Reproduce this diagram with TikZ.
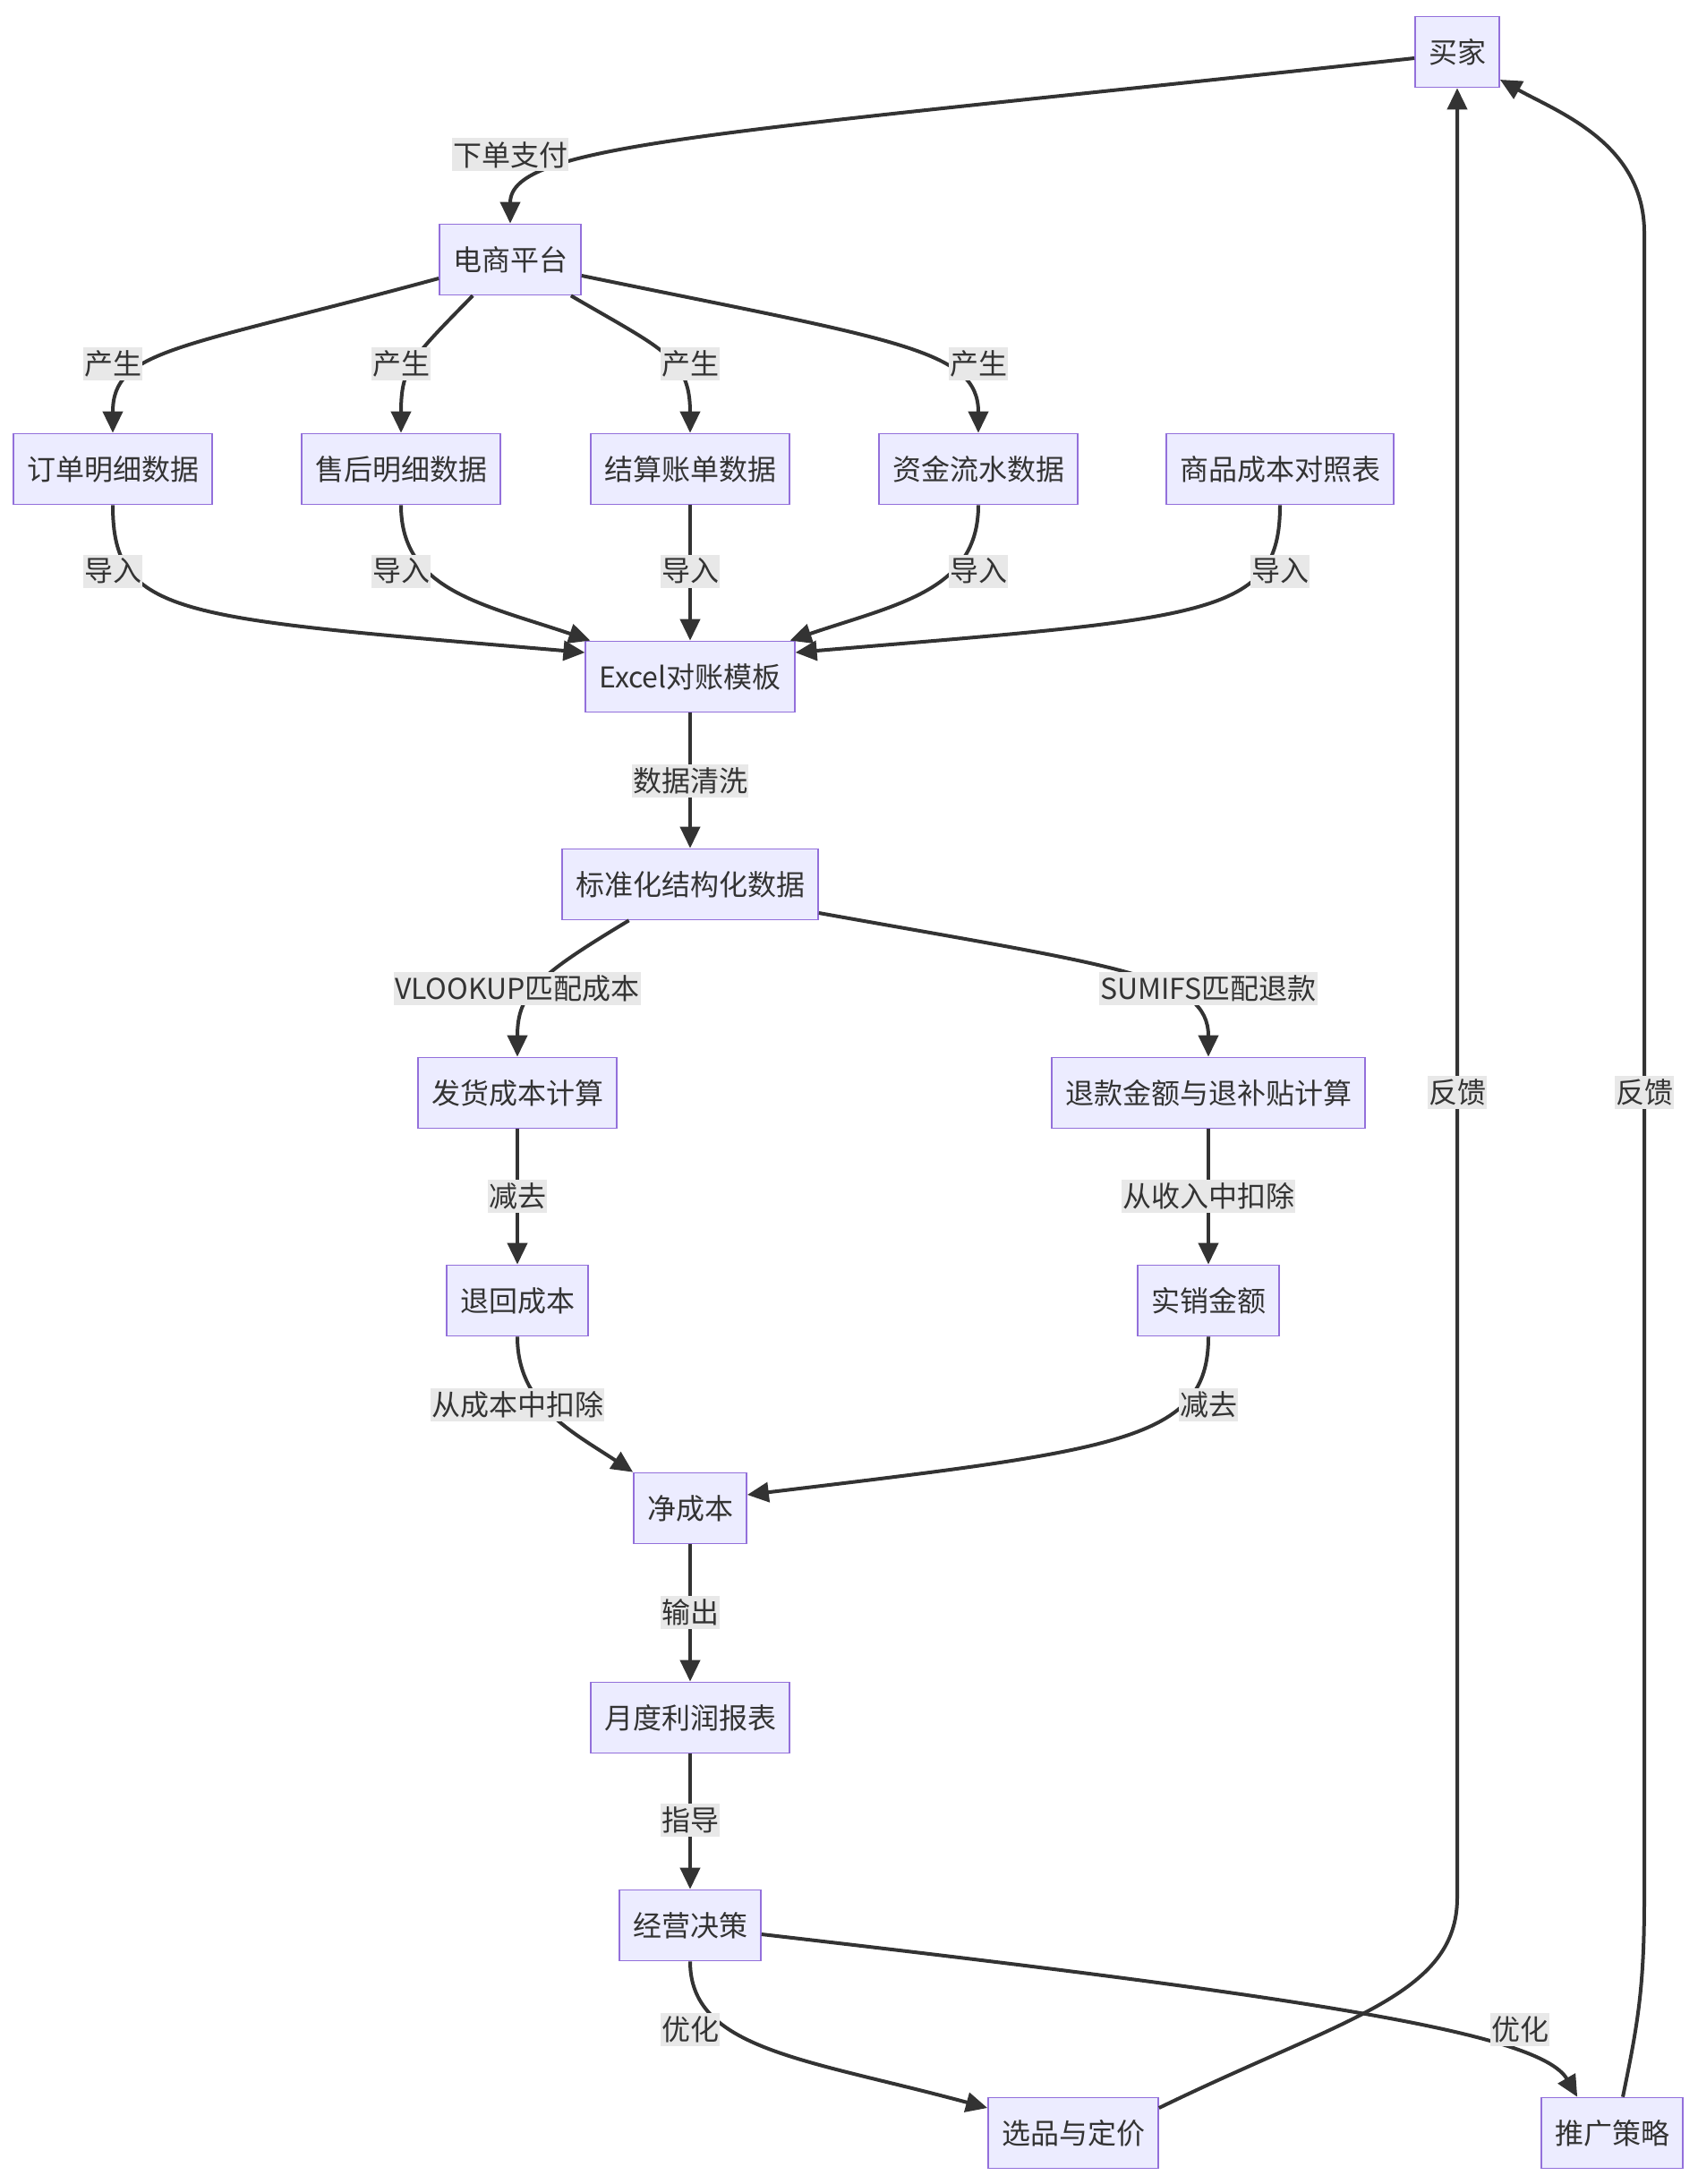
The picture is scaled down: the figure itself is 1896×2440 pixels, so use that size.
\documentclass[tikz,border=0pt]{standalone}
\usepackage{fontspec}
\setmainfont{Noto Sans CJK SC}
\usepackage{xcolor}
\usepackage{tikz}
\usetikzlibrary{arrows.meta}
\definecolor{boxfill}{HTML}{ECECFF}
\definecolor{boxline}{HTML}{9370DB}
\definecolor{ink}{HTML}{333333}
\definecolor{lblbg}{HTML}{E8E8E8}
\tikzset{
  box/.style={draw=boxline,fill=boxfill,line width=0.85pt,text=ink,minimum height=39.5pt,
    inner xsep=7.5pt,inner ysep=0pt,font=\fontsize{16pt}{19pt}\selectfont},
  lbl/.style={fill=lblbg,text=ink,inner xsep=0.5pt,inner ysep=0pt,minimum height=18.5pt,
    font=\fontsize{16pt}{19pt}\selectfont},
  ar/.style={draw=ink,line width=2pt,-{Triangle[length=12pt,width=11pt]}}
}

\begin{document}
\begin{tikzpicture}[x=0.5pt,y=0.5pt]
\useasboundingbox (0,0) rectangle (1896,-2440);
% boxes
\node[box] (maijia) at (1628,-58) {买家};
\node[box] (pingtai) at (570,-290) {电商平台};
\node[box] (dingdan) at (126,-524) {订单明细数据};
\node[box] (shouhou) at (448,-524) {售后明细数据};
\node[box] (jiesuan) at (771,-524) {结算账单数据};
\node[box] (zijin) at (1093,-524) {资金流水数据};
\node[box] (chengben) at (1430,-524) {商品成本对照表};
\node[box] (excel) at (771,-756) {Excel对账模板};
\node[box] (biaozhun) at (771,-988) {标准化结构化数据};
\node[box] (fahuo) at (578,-1221) {发货成本计算};
\node[box] (tuikuan) at (1350,-1221) {退款金额与退补贴计算};
\node[box] (tuihui) at (578,-1453) {退回成本};
\node[box] (shixiao) at (1350,-1453) {实销金额};
\node[box] (jingcb) at (771,-1685) {净成本};
\node[box] (yuedu) at (771,-1919) {月度利润报表};
\node[box] (juece) at (771,-2151) {经营决策};
\node[box] (xuanpin) at (1199,-2383) {选品与定价};
\node[box] (tuiguang) at (1801,-2383) {推广策略};

% connectors
\draw[ar] ([yshift=-3.5pt]maijia.west) .. controls (800,-150) and (570,-160) .. (pingtai.north);
\draw[ar] ([yshift=-10.5pt]pingtai.west) .. controls (200,-390) and (126,-390) .. (dingdan.north);
\draw[ar] ([xshift=19pt]pingtai.south west) .. controls (460,-400) and (448,-410) .. (shouhou.north);
\draw[ar] ([xshift=-6pt]pingtai.south east) .. controls (740,-390) and (771,-400) .. (jiesuan.north);
\draw[ar] ([yshift=-9pt]pingtai.east) .. controls (1000,-380) and (1093,-390) .. (zijin.north);
\draw[ar] (dingdan.south) .. controls (126,-690) and (200,-690) .. ([yshift=13.5pt]excel.west);
\draw[ar] (shouhou.south) .. controls (448,-660) and (540,-675) .. ([xshift=3pt]excel.north west);
\draw[ar] (jiesuan) -- (excel);
\draw[ar] (zijin.south) .. controls (1093,-660) and (1002,-675) .. ([xshift=-3pt]excel.north east);
\draw[ar] (chengben.south) .. controls (1430,-690) and (1350,-690) .. ([yshift=13.5pt]excel.east);
\draw[ar] (excel) -- (biaozhun);
\draw[ar] ([xshift=37.75pt]biaozhun.south west) .. controls (600,-1090) and (578,-1110) .. (fahuo.north);
\draw[ar] ([yshift=-16pt]biaozhun.east) .. controls (1250,-1080) and (1350,-1090) .. (tuikuan.north);
\draw[ar] (fahuo) -- (tuihui);
\draw[ar] (tuikuan) -- (shixiao);
\draw[ar] (tuihui.south) .. controls (578,-1570) and (640,-1600) .. (jingcb.north west);
\draw[ar] (shixiao.south) .. controls (1350,-1610) and (1250,-1620) .. ([yshift=7.5pt]jingcb.east);
\draw[ar] (jingcb) -- (yuedu);
\draw[ar] (yuedu) -- (juece);
\draw[ar] (juece.south) .. controls (771,-2290) and (900,-2300) .. ([yshift=14pt]xuanpin.west);
\draw[ar] ([yshift=-5pt]juece.east) .. controls (1450,-2230) and (1720,-2270) .. ([xshift=20.5pt]tuiguang.north west);
\draw[ar] ([yshift=14pt]xuanpin.east) .. controls (1500,-2255) and (1628,-2230) .. (1628,-2120) -- (maijia.south);
\draw[ar] ([xshift=6pt]tuiguang.north) .. controls (1830,-2260) and (1837,-2220) .. (1837,-2120)
  -- (1837,-260) .. controls (1837,-160) and (1740,-125) .. ([yshift=-15.5pt]maijia.east);

% labels
\node[lbl] (lpay) at (570,-173) {下单支付};
\foreach \x/\n in {126/a,448/b,771/c,1093/d} {
  \node[lbl] (lgen\n) at (\x,-406) {产生};
}
\foreach \x/\n in {126/a,448/b,771/c,1093/d,1430/e} {
  \node[lbl] (limp\n) at (\x,-638) {导入};
}
\node[lbl] (lclean) at (771,-872) {数据清洗};
\node[lbl] (lvlook) at (578,-1104) {VLOOKUP匹配成本};
\node[lbl] (lsumif) at (1350,-1104) {SUMIFS匹配退款};
\node[lbl] (lsubl) at (578,-1336) {减去};
\node[lbl] (ldedr) at (1350,-1336) {从收入中扣除};
\node[lbl] (ldedl) at (578,-1569) {从成本中扣除};
\node[lbl] (lsubr) at (1350,-1569) {减去};
\node[lbl] (lout) at (771,-1801) {输出};
\node[lbl] (lguide) at (771,-2033) {指导};
\node[lbl] (loptl) at (771,-2267) {优化};
\node[lbl] (loptr) at (1698,-2267) {优化};
\node[lbl] (lbackl) at (1628,-1220) {反馈};
\node[lbl] (lbackr) at (1837,-1220) {反馈};
\end{tikzpicture}
\end{document}
